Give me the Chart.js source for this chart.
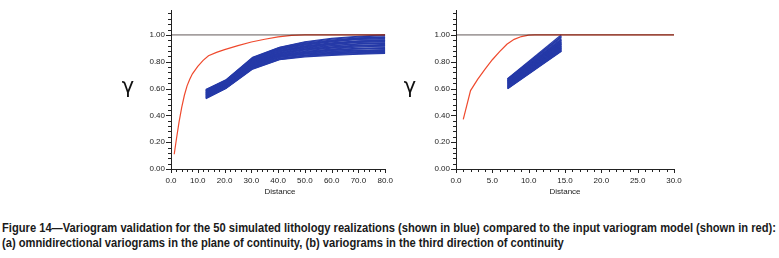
<!DOCTYPE html>
<html><head><meta charset="utf-8">
<script src="https://cdn.jsdelivr.net/npm/chart.js@4"></script>
<style>
html,body{margin:0;padding:0;background:#fff;}
body{width:779px;height:258px;position:relative;overflow:hidden;font-family:"Liberation Sans",Arial,sans-serif;}
.cv{position:absolute;top:0;}
.gamma{position:absolute;font-family:"DejaVu Sans",sans-serif;font-size:21px;line-height:1;transform:translate(-50%,-50%);color:#111;}
.dist{position:absolute;font-size:8px;line-height:1;transform:translate(-50%,-50%);color:#222;}
.cap{position:absolute;left:2px;font-weight:bold;font-size:12.5px;line-height:1;white-space:nowrap;transform-origin:0 50%;color:#1a1a1a;}
</style></head>
<body>
<div class="cv" style="left:0;width:400px;height:200px"><canvas id="c1"></canvas></div>
<div class="cv" style="left:380px;width:399px;height:200px"><canvas id="c2"></canvas></div>
<div class="gamma" style="left:128px;top:86px">γ</div>
<div class="gamma" style="left:410px;top:86px">γ</div>
<div class="dist" style="left:280px;top:192px">Distance</div>
<div class="dist" style="left:565px;top:192px">Distance</div>
<div class="cap" id="cap1" style="top:222px">Figure 14—Variogram validation for the 50 simulated lithology realizations (shown in blue) compared to the input variogram model (shown in red):</div>
<div class="cap" id="cap2" style="top:237px">(a) omnidirectional variograms in the plane of continuity, (b) variograms in the third direction of continuity</div>
<script>
// ---- tick labels ----
const yTickValues = [0,0.04,0.08,0.12,0.16,0.20,0.24,0.28,0.32,0.36,0.40,0.44,0.48,0.52,0.56,0.60,0.64,0.68,0.72,0.76,0.80,0.84,0.88,0.92,0.96,1.00,1.04,1.08,1.12,1.16];
const yTickLabels = ['0.00','0.20','0.40','0.60','0.80','1.00'];
const xTickLabelsA = ['0.0','10.0','20.0','30.0','40.0','50.0','60.0','70.0','80.0'];
const xTickLabelsB = ['0.0','5.0','10.0','15.0','20.0','25.0','30.0'];

// ---- (a) omnidirectional ----
const modelA_x = [1.2,2,3,4,5,6,7,8,10,12,14,17,20,25,30,35,40,45,50,80];
const modelA_y = [0.11,0.22,0.35,0.46,0.55,0.62,0.67,0.71,0.765,0.81,0.845,0.87,0.89,0.92,0.947,0.968,0.985,0.996,1.0,1.0];
const lagsA = [13,20.5,30.5,40.5,50,60,70,80];
const realA = [
 [0.525,0.600,0.745,0.815,0.836,0.848,0.856,0.862],
 [0.528,0.602,0.749,0.818,0.841,0.853,0.861,0.866],
 [0.530,0.604,0.752,0.822,0.845,0.858,0.866,0.870],
 [0.532,0.606,0.754,0.824,0.848,0.862,0.870,0.874],
 [0.534,0.607,0.756,0.826,0.850,0.866,0.876,0.878],
 [0.537,0.611,0.760,0.832,0.857,0.870,0.880,0.890],
 [0.539,0.612,0.763,0.835,0.859,0.875,0.884,0.884],
 [0.541,0.613,0.766,0.838,0.862,0.880,0.886,0.887],
 [0.544,0.617,0.770,0.842,0.868,0.884,0.896,0.905],
 [0.546,0.618,0.772,0.844,0.870,0.887,0.897,0.896],
 [0.548,0.620,0.775,0.847,0.872,0.890,0.900,0.899],
 [0.551,0.623,0.779,0.851,0.878,0.894,0.910,0.918],
 [0.553,0.626,0.782,0.855,0.882,0.902,0.912,0.911],
 [0.556,0.628,0.786,0.859,0.888,0.906,0.918,0.930],
 [0.558,0.630,0.788,0.862,0.890,0.908,0.921,0.922],
 [0.559,0.631,0.790,0.864,0.892,0.911,0.925,0.925],
 [0.561,0.634,0.793,0.867,0.896,0.918,0.932,0.941],
 [0.564,0.637,0.797,0.871,0.901,0.921,0.935,0.936],
 [0.567,0.640,0.800,0.875,0.905,0.927,0.944,0.952],
 [0.569,0.642,0.804,0.878,0.910,0.931,0.946,0.947],
 [0.571,0.644,0.806,0.880,0.912,0.935,0.950,0.958],
 [0.572,0.645,0.807,0.882,0.914,0.938,0.954,0.963],
 [0.575,0.648,0.810,0.886,0.919,0.941,0.956,0.957],
 [0.578,0.651,0.814,0.890,0.924,0.948,0.966,0.975],
 [0.581,0.654,0.818,0.894,0.929,0.952,0.968,0.969],
 [0.583,0.656,0.820,0.896,0.931,0.955,0.972,0.980],
 [0.584,0.657,0.822,0.898,0.934,0.958,0.976,0.986],
 [0.587,0.660,0.826,0.902,0.939,0.962,0.979,0.982],
 [0.590,0.662,0.829,0.905,0.944,0.969,0.986,0.995],
 [0.593,0.665,0.833,0.908,0.949,0.974,0.990,1.000]
];

// ---- (b) third direction ----
const modelB_x = [1.0,2.0,3,4,5,6,7,8,9,10,10.8,30];
const modelB_y = [0.37,0.585,0.67,0.745,0.815,0.875,0.93,0.967,0.988,0.998,1.0,1.0];
const lagsB = [7.1,14.5];
const realB = [
 [0.599,0.878],[0.601,0.882],[0.603,0.886],[0.606,0.882],[0.608,0.890],[0.610,0.894],
 [0.613,0.899],[0.615,0.897],[0.617,0.905],[0.620,0.902],[0.622,0.908],[0.624,0.912],
 [0.628,0.918],[0.631,0.915],[0.633,0.922],[0.635,0.926],[0.638,0.932],[0.640,0.929],
 [0.642,0.938],[0.645,0.935],[0.647,0.942],[0.649,0.946],[0.652,0.952],[0.654,0.949],
 [0.656,0.958],[0.659,0.965],[0.661,0.962],[0.663,0.972],[0.666,0.980],[0.669,0.990],
 [0.671,0.986],[0.673,1.002]
];

const SILL = 1.0;

const tickMarks = {
  id:'tickMarks',
  afterDraw(chart, args, opts){
    const ctx = chart.ctx, xs = chart.scales.x, ys = chart.scales.y;
    ctx.save();
    ctx.strokeStyle = '#222'; ctx.lineWidth = 1;
    ctx.beginPath();
    xs.ticks.forEach(t => {
      const px = Math.round(xs.getPixelForValue(t.value)) + 0.5;
      const major = Math.abs(t.value / opts.xMajor - Math.round(t.value / opts.xMajor)) < 1e-6;
      const len = major ? 4 : 3;
      ctx.moveTo(px, xs.top); ctx.lineTo(px, xs.top + len);
    });
    ys.ticks.forEach(t => {
      const py = Math.round(ys.getPixelForValue(t.value)) + 0.5;
      const major = Math.abs(t.value / 0.2 - Math.round(t.value / 0.2)) < 1e-6 && t.value <= 1.0001;
      const len = major ? 5 : 3;
      ctx.moveTo(ys.right, py); ctx.lineTo(ys.right - len, py);
    });
    ctx.stroke();
    ctx.restore();
  }
};

function makeChart(id, cfg){
  const datasets = [];
  datasets.push({data:[{x:0,y:SILL},{x:cfg.xmax,y:SILL}], borderColor:'rgba(25,12,12,0.68)', borderWidth:1, order:0});
  datasets.push({data:cfg.mx.map((x,i)=>({x, y:cfg.my[i]})), borderColor:'#ef4a2e', borderWidth:1.2, order:1});
  cfg.real.forEach(r => datasets.push({data:cfg.lags.map((x,i)=>({x, y:r[i]})), borderColor:'rgb(38,58,168)', borderWidth:1.2, order:2}));
  const xLabels = cfg.xLabels;
  return new Chart(document.getElementById(id), {
    type:'line',
    data:{datasets},
    plugins:[tickMarks],
    options:{
      responsive:true, maintainAspectRatio:false, animation:false,
      layout:{padding:cfg.pad},
      elements:{point:{radius:0}, line:{tension:0}},
      plugins:{legend:{display:false}, tooltip:{enabled:false}, tickMarks:{xMajor:cfg.xMajor}},
      scales:{
        x:{type:'linear', min:0, max:cfg.xmax,
           afterBuildTicks:s=>{ const t=[]; for(let i=0;i<=cfg.xmax/cfg.xStep+1e-9;i++) t.push({value:i*cfg.xStep}); s.ticks=t; },
           afterFit:s=>{ s.height=30; },
           border:{display:true,color:'#222',width:1},
           grid:{display:true,drawOnChartArea:false,drawTicks:false,color:'rgba(0,0,0,0)'},
           ticks:{autoSkip:false,maxRotation:0,padding:7,color:'#222',font:{family:'Liberation Sans',size:8},
             callback:(v)=>{ const k=v/cfg.xMajor; return Math.abs(k-Math.round(k))<1e-6 ? xLabels[Math.round(k)] : ''; }}
        },
        y:{type:'linear', min:0, max:1.18,
           afterBuildTicks:s=>{ s.ticks = yTickValues.map(v=>({value:v})); },
           afterFit:s=>{ s.width=45; },
           border:{display:true,color:'#222',width:1},
           grid:{display:true,drawOnChartArea:false,drawTicks:false,color:'rgba(0,0,0,0)'},
           ticks:{autoSkip:false,padding:6,color:'#222',font:{family:'Liberation Sans',size:8},
             callback:(v)=>{ const k=v/0.2; return (Math.abs(k-Math.round(k))<1e-6 && v<=1.0001) ? yTickLabels[Math.round(k)] : ''; }}
        }
      }
    }
  });
}

makeChart('c1', {xmax:80, xStep:2, xMajor:10, xLabels:xTickLabelsA, mx:modelA_x, my:modelA_y, lags:lagsA, real:realA,
  pad:{left:126,right:11,top:10,bottom:1}});
makeChart('c2', {xmax:30, xStep:1, xMajor:5, xLabels:xTickLabelsB, mx:modelB_x, my:modelB_y, lags:lagsB, real:realB,
  pad:{left:31,right:105,top:10,bottom:1}});

// fit caption width to the reference
const c1 = document.getElementById('cap1'), c2 = document.getElementById('cap2');
const sc = 774 / c1.getBoundingClientRect().width;
c1.style.transform = 'scaleX(' + sc + ')';
c2.style.transform = 'scaleX(' + sc + ')';
</script>
</body></html>
